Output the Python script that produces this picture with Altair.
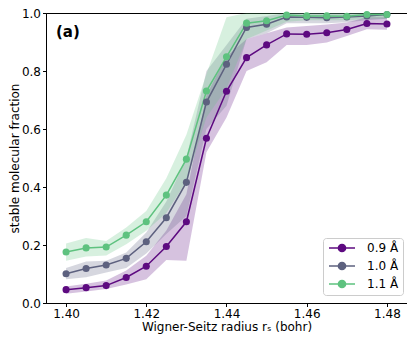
import altair as alt
import pandas as pd

x_vals = [1.400, 1.405, 1.410, 1.415, 1.420, 1.425, 1.430, 1.435, 1.440,
          1.445, 1.450, 1.455, 1.460, 1.465, 1.470, 1.475, 1.480]
series_names = ["0.9 Å", "1.0 Å", "1.1 Å"]
colors = ["#5d0a80", "#5d617f", "#5ec27f"]

mean_09 = [0.046, 0.053, 0.060, 0.088, 0.127, 0.195, 0.280, 0.568, 0.730,
           0.846, 0.890, 0.928, 0.927, 0.932, 0.943, 0.964, 0.962]
lo_09 = [0.032, 0.040, 0.048, 0.064, 0.082, 0.148, 0.146, 0.520, 0.640,
         0.800, 0.830, 0.890, 0.890, 0.898, 0.921, 0.944, 0.942]
hi_09 = [0.057, 0.066, 0.078, 0.112, 0.163, 0.250, 0.375, 0.717, 0.850,
         0.910, 0.930, 0.950, 0.955, 0.960, 0.967, 0.985, 0.985]

mean_10 = [0.101, 0.119, 0.131, 0.154, 0.211, 0.294, 0.416, 0.693, 0.823,
           0.950, 0.961, 0.986, 0.985, 0.984, 0.986, 0.990, 0.995]
lo_10 = [0.082, 0.089, 0.105, 0.121, 0.171, 0.238, 0.300, 0.600, 0.680,
         0.910, 0.930, 0.965, 0.965, 0.965, 0.968, 0.975, 0.980]
hi_10 = [0.121, 0.143, 0.146, 0.174, 0.243, 0.350, 0.500, 0.800, 0.890,
         0.980, 0.990, 1.000, 1.000, 1.000, 1.000, 1.000, 1.000]

mean_11 = [0.176, 0.190, 0.193, 0.234, 0.280, 0.372, 0.496, 0.731, 0.849,
           0.965, 0.973, 0.993, 0.990, 0.990, 0.989, 0.995, 0.995]
lo_11 = [0.146, 0.160, 0.164, 0.203, 0.249, 0.310, 0.420, 0.640, 0.740,
         0.910, 0.940, 0.970, 0.975, 0.975, 0.975, 0.980, 0.980]
hi_11 = [0.205, 0.224, 0.214, 0.260, 0.317, 0.430, 0.580, 0.790, 0.985,
         1.000, 1.000, 1.000, 1.000, 1.000, 1.000, 1.000, 1.000]

rows = []
for name, m, lo, hi in zip(series_names,
                           [mean_09, mean_10, mean_11],
                           [lo_09, lo_10, lo_11],
                           [hi_09, hi_10, hi_11]):
    for xv, a, b, c in zip(x_vals, m, lo, hi):
        rows.append({"rs": xv, "frac": a, "lo": b, "hi": c, "series": name})
df = pd.DataFrame(rows)

FONT = "DejaVu Sans"
xscale = alt.Scale(domain=[1.395, 1.485], nice=False, zero=False)
yscale = alt.Scale(domain=[0, 1], nice=False)
cscale = alt.Scale(domain=series_names, range=colors)

xaxis = alt.Axis(values=[1.40, 1.42, 1.44, 1.46, 1.48], format=".2f", grid=False,
                 title="Wigner-Seitz radius rₛ (bohr)", titleFont=FONT, titleFontSize=12,
                 titleFontWeight="normal", titleColor="black", labelFont=FONT,
                 labelFontSize=12, labelColor="black", tickColor="black",
                 domainColor="black", tickSize=3.5, labelPadding=2, titlePadding=2)
yaxis = alt.Axis(values=[0, 0.2, 0.4, 0.6, 0.8, 1.0], format=".1f", grid=False,
                 title="stable molecular fraction", titleFont=FONT, titleFontSize=12,
                 titleFontWeight="normal", titleColor="black", labelFont=FONT,
                 labelFontSize=12, labelColor="black", tickColor="black",
                 domainColor="black", tickSize=3.5, labelPadding=2, titlePadding=0)

# legend symbol: a line with a dot, drawn at scale 4 px per unit (size 64)
sym = "M-3.25,0L3.25,0M-0.9,0A0.9,0.9,0,1,1,0.9,0A0.9,0.9,0,1,1,-0.9,0Z"
legend = alt.Legend(title=None, orient="none", legendX=277, legendY=225,
                    symbolType=sym, symbolSize=64, symbolStrokeWidth=1.5,
                    symbolOffset=9, labelOffset=19,
                    labelFont=FONT, labelFontSize=12, labelColor="black",
                    padding=4, rowPadding=4, strokeColor="#cccccc", fillColor="white",
                    cornerRadius=3, symbolOpacity=1)

base = alt.Chart(df)

bands = base.mark_area(opacity=0.25).encode(
    x=alt.X("rs:Q", scale=xscale, axis=xaxis),
    y=alt.Y("lo:Q", scale=yscale, axis=yaxis),
    y2="hi:Q",
    color=alt.Color("series:N", scale=cscale, legend=legend),
    detail="series:N",
)

lines = base.mark_line(strokeWidth=1.5, point=alt.OverlayMarkDef(size=50, filled=True, opacity=1)).encode(
    x=alt.X("rs:Q", scale=xscale),
    y=alt.Y("frac:Q", scale=yscale),
    color=alt.Color("series:N", scale=cscale, legend=legend),
    order="rs:Q",
)

label = alt.Chart(pd.DataFrame({"t": ["(a)"]})).mark_text(
    font=FONT, fontSize=15, fontWeight="bold", align="left", baseline="middle", color="black"
).encode(text="t:N", x=alt.value(10), y=alt.value(19))

chart = alt.layer(bands, lines, label).properties(
    width=361, height=290,
    autosize=alt.AutoSizeParams(type="none"),
    padding={"left": 38, "top": 5, "right": 0, "bottom": 32},
).configure_view(stroke="black", strokeWidth=1)

chart.save("out.html", embed_options={"renderer": "svg", "actions": False})
